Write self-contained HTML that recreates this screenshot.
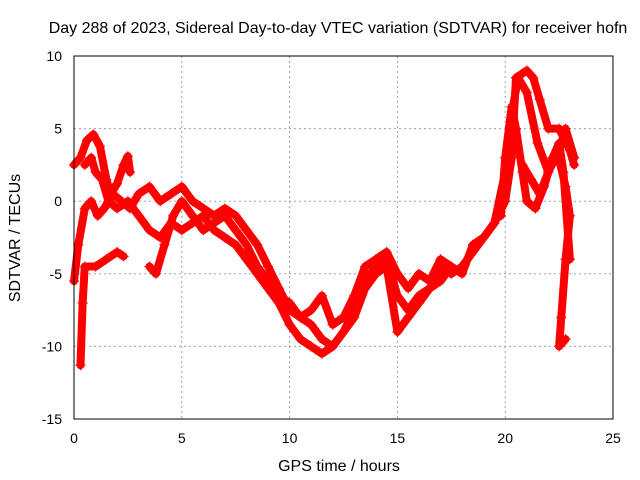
<!DOCTYPE html>
<html><head><meta charset="utf-8"><style>
body{margin:0;background:#fff}
svg{display:block}
text{font-family:"Liberation Sans",sans-serif;font-size:14px;fill:#000}
.big{font-size:16px}
</style></head><body>
<svg id="chart" width="640" height="480">
<text class="big" x="338" y="33" text-anchor="middle">Day 288 of 2023, Sidereal Day-to-day VTEC variation (SDTVAR) for receiver hofn</text>
<text class="big" x="339" y="471" text-anchor="middle">GPS time / hours</text>
<text class="big" transform="translate(20,238) rotate(-90)" text-anchor="middle">SDTVAR / TECUs</text>
<g id="grid"></g><g id="marks"></g>
<rect x="74" y="56" width="539" height="363" fill="none" stroke="#000" stroke-width="1"/>
</svg>
<script>
const xTicks=[0,5,10,15,20,25];
const yTicks=[10,5,0,-5,-10,-15];
const track1=[[0,2.5],[0.3,3],[0.6,4.2],[0.9,4.6],[1.2,3.8],[1.5,1.5],[1.7,0.5],[2,1.2],[2.3,2.5],[2.5,3.1],[2.6,2]];
const track2=[[0,-5.5],[0.2,-3],[0.5,-0.5],[0.8,0],[1.1,-1],[1.4,-0.5],[1.8,0.5],[2.2,0],[2.6,-0.5],[3,0.5],[3.5,1],[4,0],[4.5,0.5],[5,1],[5.5,0],[6,-0.5],[6.5,-1],[7,-0.5],[7.5,-1],[8,-2],[8.5,-3],[9,-4.5],[9.5,-6],[10,-7.5],[10.5,-8],[11,-8.5],[11.5,-9.5],[12,-10],[12.5,-9],[13,-7.5],[13.5,-5.5],[14,-4.5],[14.5,-4],[15,-6.5],[15.5,-7.5],[16,-6.5],[16.5,-6],[17,-4.5],[17.5,-5],[18,-4.5],[18.5,-3.5],[19,-2.5],[19.5,-1.5],[20,0],[20.3,3],[20.5,8.5],[21,9],[21.3,8.5],[21.6,7],[22,5],[22.5,5],[23,3.5],[23.2,2.5]];
const track3=[[0.3,-11.3],[0.4,-7],[0.5,-4.5],[1,-4.5],[1.5,-4],[2,-3.5],[2.3,-3.8]];
const track4=[[0.5,2.5],[0.8,3],[1,2],[1.3,1.5],[1.6,0],[2,-0.5],[2.5,0],[3,-1],[3.5,-2],[4,-2.5],[4.5,-1.5],[5,-2],[5.5,-1.5],[6,-1],[6.5,-2],[7,-2.5],[7.5,-3],[8,-4],[8.5,-5],[9,-6],[9.5,-7],[10,-8.5],[10.5,-9.5],[11,-10],[11.5,-10.5],[12,-10],[12.5,-9],[13,-8],[13.5,-6],[14,-5],[14.5,-4.5],[15,-9],[15.5,-8],[16,-7],[16.5,-6],[17,-5.5],[17.5,-4.5],[18,-5],[18.5,-3],[19,-2.5],[19.5,-1.5],[20,2],[20.3,6],[20.6,8.5],[21,7.5],[21.5,4],[22,2],[22.5,3.5],[22.8,5],[23.2,3]];
const track5=[[3.5,-4.5],[3.8,-5],[4.2,-3],[4.6,-1],[5,0],[5.5,-1],[6,-2],[6.5,-1.5],[7,-1],[7.5,-2],[8,-3],[8.5,-4.5],[9,-5.5],[9.5,-6.5],[10,-7],[10.5,-8],[11,-7.5],[11.5,-6.5],[12,-8.5],[12.5,-8],[13,-6.5],[13.5,-4.5],[14,-4],[14.5,-3.5],[15,-5],[15.5,-6],[16,-5],[16.5,-5.5],[17,-4],[17.5,-4.5]];
const track6=[[20.8,2.5],[21.2,1.5],[21.6,0.5],[22,2],[22.4,3.5],[22.8,1],[23,-1],[22.8,-4],[22.6,-8],[22.5,-10],[22.8,-9.5]];
const track7=[[19.8,-1],[20,3],[20.3,6.5],[20.5,5],[20.8,2],[21,0],[21.4,-0.5],[21.8,1],[22.2,3],[22.5,4],[22.7,2],[23,-4]];
const tracks=[track1,track2,track3,track4,track5,track6,track7];
const X0=74,X1=613,Y0=419,Y1=56;
function sx(v){return X0+(v-0)/(25-0)*(X1-X0);}
function sy(v){return Y0-(v+15)/(25)*(Y0-Y1);}
const NS="http://www.w3.org/2000/svg";
const grid=document.getElementById('grid'),marks=document.getElementById('marks');
xTicks.forEach(t=>{
  const x=sx(t);
  if(t>0&&t<25){const l=document.createElementNS(NS,'line');
  l.setAttribute('x1',x);l.setAttribute('x2',x);l.setAttribute('y1',Y1);l.setAttribute('y2',Y0);
  l.setAttribute('stroke','#a0a0a0');l.setAttribute('stroke-dasharray','2,3');
  
  
  grid.appendChild(l);}
  const tk=document.createElementNS(NS,'text');
  tk.setAttribute('x',x);tk.setAttribute('y',443);tk.setAttribute('text-anchor','middle');tk.textContent=t;
  
  
  grid.appendChild(tk);
});
yTicks.forEach(t=>{
  const y=sy(t);
  if(t<10&&t>-15){const l=document.createElementNS(NS,'line');
  l.setAttribute('x1',X0);l.setAttribute('x2',X1);l.setAttribute('y1',y);l.setAttribute('y2',y);
  l.setAttribute('stroke','#a0a0a0');l.setAttribute('stroke-dasharray','2,3');
  
  
  grid.appendChild(l);}
  const tk=document.createElementNS(NS,'text');
  tk.setAttribute('x',62);tk.setAttribute('y',y+5);tk.setAttribute('text-anchor','end');tk.textContent=t;
  
  
  grid.appendChild(tk);
});
tracks.forEach(tr=>{
  const p=document.createElementNS(NS,'polyline');
  p.setAttribute('points',tr.map(d=>sx(d[0])+','+sy(d[1])).join(' '));
  p.setAttribute('fill','none');p.setAttribute('stroke','#ff0000');p.setAttribute('stroke-width','8');
  p.setAttribute('stroke-linejoin','round');p.setAttribute('stroke-linecap','round');
  
  
  marks.appendChild(p);
  tr.forEach(d=>{
    const x=sx(d[0]),y=sy(d[1]);
    const m=document.createElementNS(NS,'path');
    m.setAttribute('d',`M${x-5},${y}H${x+5}M${x},${y-5}V${y+5}`);
    m.setAttribute('stroke','#ff0000');m.setAttribute('stroke-width','1.2');
    
    
    marks.appendChild(m);
  });
});
</script>
</body></html>
